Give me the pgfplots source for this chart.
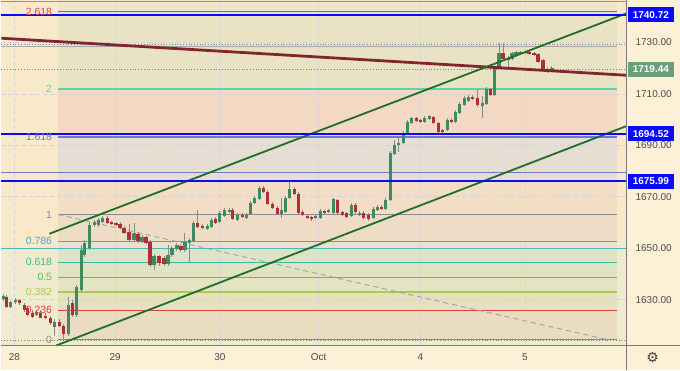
\documentclass[border=0pt]{standalone}
\usepackage{pgfplots}
\pgfplotsset{compat=1.18}
\usepackage{pgfplotstable}
\usepackage{fontspec}
\setmainfont{Liberation Sans}
\newfontfamily\symfont{DejaVu Sans}

\definecolor{bgc}{HTML}{FCF1D6}
\definecolor{leftup}{HTML}{F8E9CB}
\definecolor{leftlo}{HTML}{EFEAD0}
\definecolor{z0}{HTML}{EADCC0}
\definecolor{z1}{HTML}{E6E0C0}
\definecolor{z2}{HTML}{E2E4C2}
\definecolor{z3}{HTML}{DFE3C4}
\definecolor{z4}{HTML}{DEE2C8}
\definecolor{z5}{HTML}{EAE0CC}
\definecolor{z6}{HTML}{EEDCC6}
\definecolor{z7}{HTML}{F3DDC5}
\definecolor{z8}{HTML}{E6DED2}
\definecolor{z9}{HTML}{F3D9C4}
\definecolor{z10}{HTML}{EAE2C4}
\definecolor{z11}{HTML}{EFE6CA}
\definecolor{upc}{HTML}{3E8A63}
\definecolor{dnc}{HTML}{AE2F35}
\definecolor{wick}{HTML}{858C88}
\definecolor{gridc}{HTML}{D3D3DA}
\definecolor{axisc}{HTML}{7A7A7A}
\definecolor{tickc}{HTML}{4A4A4A}
\definecolor{bluel}{HTML}{0A0AFF}
\definecolor{maroonl}{HTML}{832530}
\definecolor{chan}{HTML}{1F6E23}
\definecolor{f0}{HTML}{8A8A8A}
\definecolor{f236}{HTML}{D9433B}
\definecolor{f382}{HTML}{A8CC4C}
\definecolor{f5}{HTML}{4CCB4C}
\definecolor{f618}{HTML}{3DBB96}
\definecolor{f786}{HTML}{4AA2DA}
\definecolor{f1618}{HTML}{7474CE}
\definecolor{f2}{HTML}{5CD3A8}
\definecolor{f2618}{HTML}{D44848}
\definecolor{tealh}{HTML}{4FB5BF}
\definecolor{lastbox}{HTML}{6A9F7C}

\pgfplotstableread{
x o h l c
2 1630.4 1632.4 1629.6 1631.6
9 1627.3 1629.6 1626.9 1629.2
14 1629.2 1630.8 1628.5 1630.0
35 1624.2 1626.1 1623.8 1625.4
53 1619.2 1622.3 1615.7 1621.5
67 1616.5 1631.2 1615.7 1628.1
75 1624.2 1635.8 1623.4 1635.1
80 1633.9 1651.3 1633.1 1649.4
83 1647.5 1653.3 1646.7 1652.1
88 1650.2 1660.3 1649.4 1659.1
93 1659.1 1661.0 1658.3 1660.3
97 1659.1 1661.8 1658.3 1661.0
101 1660.3 1662.6 1659.9 1661.8
133 1653.3 1659.9 1652.5 1656.0
141 1652.5 1655.2 1652.1 1654.4
153 1643.6 1647.9 1641.7 1647.1
167 1644.0 1651.3 1643.2 1647.5
171 1647.5 1651.0 1646.7 1650.2
176 1649.8 1652.1 1649.0 1651.3
184 1649.4 1656.0 1648.6 1652.5
189 1652.1 1654.1 1644.4 1653.3
193 1652.9 1660.6 1652.5 1659.9
207 1657.5 1659.5 1657.2 1658.7
211 1658.3 1661.8 1657.9 1661.0
219 1660.3 1664.5 1659.9 1663.7
224 1662.6 1665.7 1662.2 1664.9
229 1664.1 1665.7 1663.7 1664.9
237 1661.0 1663.7 1660.6 1663.0
246 1661.8 1663.7 1661.4 1663.0
250 1663.4 1668.4 1663.0 1667.6
254 1667.6 1670.3 1667.2 1669.6
259 1669.2 1674.2 1668.8 1673.4
281 1663.4 1669.6 1661.8 1664.9
285 1664.1 1670.3 1663.7 1669.6
289 1669.6 1676.1 1669.2 1673.0
315 1661.8 1663.0 1661.4 1662.6
320 1661.8 1665.3 1661.4 1664.5
328 1664.1 1665.3 1663.7 1664.9
333 1663.7 1669.6 1663.4 1669.2
351 1662.6 1667.6 1662.2 1666.8
359 1663.0 1664.5 1662.6 1663.7
373 1661.8 1666.1 1661.4 1665.3
377 1664.9 1666.8 1664.5 1666.1
385 1665.3 1669.6 1664.9 1668.8
390 1668.8 1687.8 1668.4 1687.0
394 1686.6 1692.0 1686.2 1690.1
398 1690.1 1692.8 1687.4 1690.9
403 1690.9 1695.5 1690.5 1694.8
407 1694.8 1699.8 1694.4 1699.0
411 1698.6 1701.0 1698.2 1700.6
424 1699.0 1701.3 1698.6 1700.6
429 1700.2 1701.7 1699.8 1701.3
447 1695.9 1700.6 1695.5 1699.8
455 1699.0 1703.7 1698.6 1702.9
459 1702.5 1706.8 1702.1 1706.0
464 1705.6 1709.1 1705.2 1708.3
468 1707.2 1709.5 1706.8 1708.7
482 1705.2 1709.1 1700.6 1706.4
486 1706.0 1712.6 1705.6 1711.8
494 1709.5 1720.7 1709.1 1719.9
499 1720.3 1729.6 1719.9 1725.8
508 1723.0 1724.6 1719.9 1723.8
512 1723.4 1726.1 1723.0 1725.8
516 1724.6 1726.5 1724.2 1726.1
520 1725.4 1726.5 1725.0 1726.1
525 1725.8 1726.5 1725.4 1726.1
547 1719.2 1720.3 1718.0 1719.6
552 1719.2 1720.7 1718.4 1719.9
}\upcandles

\pgfplotstableread{
x o h l c
5 1631.2 1632.0 1626.9 1627.3
18 1630.0 1630.4 1628.1 1628.9
23 1628.1 1628.9 1625.4 1626.1
26 1626.9 1627.7 1623.8 1624.2
31 1625.0 1625.8 1623.0 1623.4
39 1625.0 1625.8 1622.7 1623.0
44 1623.8 1625.0 1622.3 1623.0
49 1623.0 1623.8 1620.3 1621.1
58 1621.5 1622.3 1619.2 1619.6
62 1619.9 1620.7 1614.5 1616.5
71 1628.9 1630.0 1623.4 1624.2
106 1661.8 1662.6 1659.5 1659.9
110 1660.3 1660.6 1659.1 1659.5
115 1659.9 1660.3 1658.7 1659.1
119 1659.5 1660.3 1657.5 1657.9
123 1657.9 1658.7 1655.6 1656.0
128 1656.4 1659.5 1652.9 1653.3
137 1655.6 1656.4 1652.1 1652.9
145 1654.4 1654.8 1651.7 1652.1
149 1652.5 1653.3 1642.8 1643.6
158 1647.1 1647.5 1643.2 1644.4
163 1646.3 1647.1 1643.2 1644.0
180 1651.0 1651.7 1648.6 1649.4
197 1659.9 1664.9 1657.9 1658.3
202 1658.7 1659.5 1657.5 1657.9
215 1661.4 1662.2 1659.5 1659.9
232 1664.9 1665.7 1661.0 1661.4
242 1663.0 1663.7 1661.8 1662.2
263 1673.4 1674.2 1671.5 1671.9
267 1671.9 1672.7 1666.8 1667.2
272 1667.2 1668.0 1665.3 1665.7
277 1665.7 1666.5 1663.0 1663.4
294 1673.0 1673.8 1670.7 1671.1
298 1671.1 1671.9 1663.4 1663.7
302 1664.1 1664.9 1662.6 1663.0
307 1662.6 1663.4 1661.4 1661.8
311 1662.2 1662.6 1660.6 1661.4
324 1664.5 1664.9 1663.4 1663.7
337 1668.8 1669.2 1663.4 1663.7
342 1664.1 1664.5 1662.6 1663.0
346 1663.7 1664.1 1661.8 1662.2
355 1666.8 1667.6 1663.4 1664.1
363 1663.7 1664.5 1661.4 1661.8
368 1663.0 1663.7 1660.6 1661.4
381 1666.1 1666.8 1664.9 1665.3
416 1700.6 1701.0 1699.0 1699.4
420 1699.8 1700.2 1698.6 1699.0
433 1701.0 1701.3 1698.2 1698.6
438 1698.6 1699.0 1694.8 1695.1
442 1695.9 1696.3 1694.8 1695.1
451 1699.8 1700.6 1698.6 1699.0
472 1708.7 1709.5 1707.5 1707.9
477 1708.3 1711.4 1704.8 1705.6
490 1711.8 1712.2 1709.1 1709.5
503 1725.8 1729.6 1723.0 1723.4
529 1726.1 1726.5 1725.0 1725.4
534 1725.8 1726.1 1724.6 1725.0
538 1725.4 1725.8 1721.9 1722.3
543 1723.0 1723.4 1718.8 1719.2
}\downcandles

\pgfplotsset{
  zone/.style={on layer=axis background, fill=#1, draw=none, forget plot},
  hl/.style={forget plot, mark=none},
  candle/.style 2 args={draw=none, mark=none, forget plot,
    error bars/.cd, y dir=plus, y explicit, error mark=none,
    error bar style={draw=#1, line width=#2}},
}
\tikzset{
  fiblab/.style={anchor=east, inner sep=0pt, font=\fontsize{10.5}{12}\selectfont, text=#1},
  pbox/.style={anchor=west, fill=#1, text=white, inner sep=0pt, minimum width=46pt, minimum height=15pt, font=\bfseries\fontsize{10}{12}\selectfont},
}

\begin{document}
\begin{tikzpicture}[x=1pt,y=1pt]
\path (0,0) rectangle (680,371);
\begin{axis}[
  set layers,
  at={(0pt,25pt)}, anchor=south west, scale only axis,
  width=627pt, height=346pt,
  xmin=0, xmax=627, ymin=1612.2, ymax=1746.3,
  axis line style={draw=none},
  clip=false,
  xtick={13,114,219,318,420,525},
  xticklabels={28,29,30,Oct,4,5},
  ytick={1630,1650,1670,1690,1710,1730},
  yticklabels={1630.00,1650.00,1670.00,1690.00,1710.00,1730.00},
  yticklabel pos=right,
  major tick length=0pt,
  tick style={draw=none},
  xmajorgrids, ymajorgrids,
  major grid style={gridc, dash pattern=on 4pt off 3pt, line width=0.6pt},
  ticklabel style={font=\fontsize{10}{12}\selectfont, text=tickc},
  xticklabel style={anchor=center, yshift=-12pt},
  yticklabel style={anchor=center, xshift=27pt},
  /pgf/number format/assume math mode=true,
]
% whole picture background
\addplot[zone=bgc] coordinates {(0,1602.51) (680,1602.51) (680,1746.3) (0,1746.3)};
% base regions
\addplot[zone=leftup] coordinates {(0,1649.8) (627,1649.8) (627,1746.3) (0,1746.3)};
\addplot[zone=leftlo] coordinates {(0,1612.2) (627,1612.2) (627,1649.8) (0,1649.8)};
% fib zones
\addplot[zone=z0] coordinates {(57,1614.4) (617,1614.4) (617,1626.0) (57,1626.0)};
\addplot[zone=z1] coordinates {(57,1626.0) (617,1626.0) (617,1633.0) (57,1633.0)};
\addplot[zone=z2] coordinates {(57,1633.0) (617,1633.0) (617,1638.75) (57,1638.75)};
\addplot[zone=z3] coordinates {(57,1638.75) (617,1638.75) (617,1644.5) (57,1644.5)};
\addplot[zone=z4] coordinates {(57,1644.5) (617,1644.5) (617,1649.8) (57,1649.8)};
\addplot[zone=z5] coordinates {(57,1649.8) (617,1649.8) (617,1652.7) (57,1652.7)};
\addplot[zone=z6] coordinates {(57,1652.7) (617,1652.7) (617,1663.1) (57,1663.1)};
\addplot[zone=z7] coordinates {(57,1663.1) (617,1663.1) (617,1676.0) (57,1676.0)};
\addplot[zone=z8] coordinates {(57,1676.0) (617,1676.0) (617,1693.2) (57,1693.2)};
\addplot[zone=z9] coordinates {(57,1693.2) (617,1693.2) (617,1711.8) (57,1711.8)};
\addplot[zone=z10] coordinates {(57,1711.8) (617,1711.8) (617,1741.9) (57,1741.9)};
\addplot[zone=z11] coordinates {(57,1741.9) (617,1741.9) (617,1746.3) (57,1746.3)};

% fib level lines
\addplot[hl, f0, line width=0.9pt] coordinates {(57,1614.4) (617,1614.4)};
\addplot[hl, f236, line width=0.9pt] coordinates {(57,1626.0) (617,1626.0)};
\addplot[hl, f382, line width=1.6pt] coordinates {(57,1633.0) (617,1633.0)};
\addplot[hl, f5, line width=1.0pt] coordinates {(57,1638.75) (617,1638.75)};
\addplot[hl, f618, line width=0.9pt] coordinates {(57,1644.5) (617,1644.5)};
\addplot[hl, f786, line width=1.0pt] coordinates {(57,1652.7) (617,1652.7)};
\addplot[hl, f0, line width=1.0pt] coordinates {(57,1663.1) (617,1663.1)};
\addplot[hl, f1618, line width=1.6pt] coordinates {(57,1693.2) (617,1693.2)};
\addplot[hl, f2, line width=1.4pt] coordinates {(57,1711.8) (617,1711.8)};
\addplot[hl, f2618, line width=0.9pt] coordinates {(57,1741.9) (617,1741.9)};
\addplot[hl, f0!80, line width=0.9pt, dash pattern=on 5pt off 4pt] coordinates {(57,1663.1) (607,1614.5)};

% full width lines
\addplot[hl, tealh, line width=0.9pt] coordinates {(0,1649.8) (627,1649.8)};
\addplot[hl, tealh!80!gray, line width=0.9pt] coordinates {(0,1745.9) (627,1745.9)};
\addplot[hl, f1618, line width=1.0pt] coordinates {(0,1679.6) (627,1679.6)};
\addplot[hl, gray!70, line width=0.7pt] coordinates {(0,1728.6) (617,1728.6)};
\addplot[hl, gray, line width=0.8pt, dotted] coordinates {(0,1729.3) (627,1729.3)};
\addplot[hl, gray, line width=0.8pt, dotted] coordinates {(0,1719.44) (627,1719.44)};
\addplot[hl, gray, line width=0.8pt, dotted] coordinates {(0,1614.1) (627,1614.1)};

% candles: wicks
\addplot[candle={wick}{0.9pt}]
  table[x=x, y=l, y error expr=\thisrow{h}-\thisrow{l}] {\upcandles};
\addplot[candle={wick}{0.9pt}]
  table[x=x, y=l, y error expr=\thisrow{h}-\thisrow{l}] {\downcandles};
% candles: bodies
\addplot[candle={upc}{3.2pt}]
  table[x=x, y=o, y error expr=\thisrow{c}-\thisrow{o}] {\upcandles};
\addplot[candle={dnc}{3.2pt}]
  table[x=x, y=c, y error expr=\thisrow{o}-\thisrow{c}] {\downcandles};

% trend lines
\addplot[hl, maroonl, line width=2.8pt] coordinates {(0,1731.6) (627,1717.2)};
\addplot[hl, chan, line width=1.8pt] coordinates {(48,1655.6) (627,1741.3)};
\addplot[hl, chan, line width=1.8pt] coordinates {(55,1612.2) (627,1697.5)};
% blue horizontal lines
\addplot[hl, bluel, line width=2.2pt] coordinates {(0,1740.72) (627,1740.72)};
\addplot[hl, bluel, line width=2.2pt] coordinates {(0,1694.52) (627,1694.52)};
\addplot[hl, bluel, line width=2.2pt] coordinates {(0,1675.99) (627,1675.99)};

% fib labels
\node[fiblab=f2618] at (axis cs:51,1741.9) {2.618};
\node[fiblab=f2] at (axis cs:51,1711.8) {2};
\node[fiblab=f1618] at (axis cs:51,1693.2) {1.618};
\node[fiblab=f0] at (axis cs:51,1663.1) {1};
\node[fiblab=f786] at (axis cs:51,1652.7) {0.786};
\node[fiblab=f618] at (axis cs:51,1644.5) {0.618};
\node[fiblab=f5] at (axis cs:51,1638.75) {0.5};
\node[fiblab=f382] at (axis cs:51,1633.0) {0.382};
\node[fiblab=f236] at (axis cs:51,1626.0) {0.236};
\node[fiblab=f0] at (axis cs:51,1614.4) {0};

% price boxes
\node[pbox=bluel] at (axis cs:628,1740.72) {1740.72};
\node[pbox=lastbox] at (axis cs:628,1719.44) {1719.44};
\node[pbox=bluel] at (axis cs:628,1694.52) {1694.52};
\node[pbox=bluel] at (axis cs:628,1675.99) {1675.99};
\end{axis}
\draw[axisc, line width=0.8pt] (627,0) -- (627,371);
\draw[axisc, line width=0.8pt] (0,25) -- (680,25);
\node[text=black!75, font=\symfont\fontsize{14}{14}\selectfont] at (653,13) {⚙};
\end{tikzpicture}
\end{document}
